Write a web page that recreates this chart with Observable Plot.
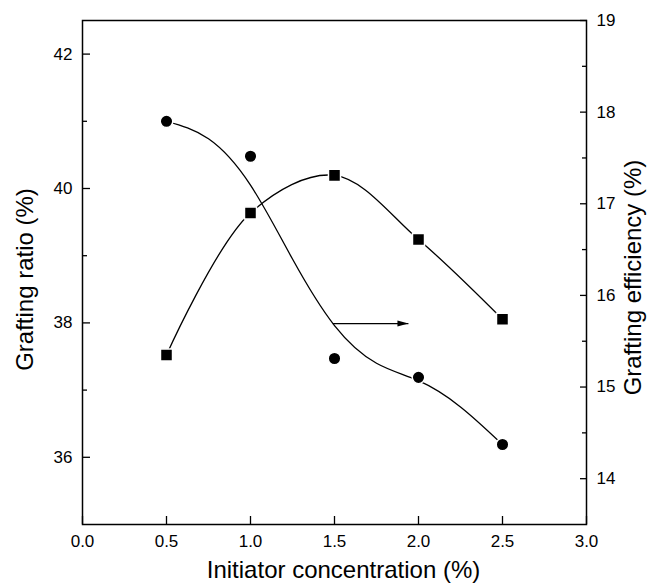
<!DOCTYPE html>
<html><head><meta charset="utf-8">
<script src="https://cdn.jsdelivr.net/npm/d3@7"></script>
<script src="https://cdn.jsdelivr.net/npm/@observablehq/plot@0.6"></script>
<style>body{margin:0;background:#fff}</style>
</head><body><div id="chart"></div>
<script>
// ---- data ----
const concentration = [0.5, 1.0, 1.5, 2.0, 2.5];
const graftingRatio = [41.0, 40.48, 37.47, 37.19, 36.19];        // left axis, circles
const graftingEfficiency = [15.35, 16.90, 17.31, 16.61, 15.74];  // right axis, squares
// fitted smooth curve drawn through the circle series
const fitConcentration = [0.5, 0.75, 1.0, 1.25, 1.5, 1.75, 2.0, 2.25, 2.5];
const ratioFit = [41.0, 40.74, 40.05, 38.95, 37.96, 37.40, 37.14, 36.75, 36.19];
// ticks
const xTicks = [0, 0.5, 1.0, 1.5, 2.0, 2.5, 3.0];
const leftMajor = [36, 38, 40, 42];
const leftMinor = [37, 39, 41];
const rightMajor = [14, 15, 16, 17, 18, 19];
const rightMinor = [14.5, 15.5, 16.5, 17.5, 18.5];
// arrow pointing to the right axis
const arrowX = [1.49, 1.94];
const arrowY = 37.99;

const leftDomain = [35, 42.5];
const rightDomain = [13.5, 19];
const toLeft = r => leftDomain[0] + (r - rightDomain[0]) * (leftDomain[1] - leftDomain[0]) / (rightDomain[1] - rightDomain[0]);
const fromLeft = v => rightDomain[0] + (v - leftDomain[0]) * (rightDomain[1] - rightDomain[0]) / (leftDomain[1] - leftDomain[0]);

const circles = concentration.map((x, i) => ({x, y: graftingRatio[i]}));
const squares = concentration.map((x, i) => ({x, y: toLeft(graftingEfficiency[i])}));
const fit = fitConcentration.map((x, i) => ({x, y: ratioFit[i]}));
const arrow = [{x1: arrowX[0], x2: arrowX[1], y: arrowY}];

const arrowHead = {
  draw(ctx) {
    ctx.moveTo(0, 0);
    ctx.lineTo(-11, -3);
    ctx.lineTo(-11, 3);
    ctx.closePath();
  }
};

const none = () => "";
const tickStyle = {stroke: "black", strokeWidth: 1.3, tickFormat: none, label: null};
const textStyle = {tickSize: 0, tickPadding: 10, fontSize: 17, label: null};

const chart = Plot.plot({
  width: 648,
  height: 586,
  marginLeft: 82,
  marginRight: 62,
  marginTop: 20,
  marginBottom: 62,
  style: {fontFamily: "'Liberation Sans', Arial, sans-serif", fontSize: "17px", color: "black", background: "white"},
  x: {domain: [0, 3], axis: null},
  y: {domain: leftDomain, axis: null},
  marks: [
    Plot.line(fit, {x: "x", y: "y", curve: "natural", stroke: "black", strokeWidth: 1.3}),
    Plot.line(squares, {x: "x", y: "y", curve: "catmull-rom", stroke: "black", strokeWidth: 1.3}),
    Plot.dot(circles, {x: "x", y: "y", r: 6.3, fill: "black", stroke: "white", strokeWidth: 1.5}),
    Plot.dot(squares, {x: "x", y: "y", r: 6.8, symbol: "square", fill: "black", stroke: "white", strokeWidth: 1.5}),
    Plot.link(arrow, {x1: "x1", x2: "x2", y1: "y", y2: "y", stroke: "black", strokeWidth: 1.2}),
    Plot.dot(arrow, {x: "x2", y: "y", symbol: arrowHead, fill: "black", stroke: "none"}),
    Plot.frame({stroke: "black", strokeWidth: 1.5}),
    // inward tick marks
    Plot.axisX(xTicks, {anchor: "bottom", tickSize: 8, dy: -8, ...tickStyle}),
    Plot.axisY(leftMajor, {anchor: "left", tickSize: 8, dx: 8, ...tickStyle}),
    Plot.axisY(leftMinor, {anchor: "left", tickSize: 5, dx: 5, ...tickStyle}),
    Plot.axisY(rightMajor.map(toLeft), {anchor: "right", tickSize: 7, dx: -7, ...tickStyle}),
    Plot.axisY(rightMinor.map(toLeft), {anchor: "right", tickSize: 5, dx: -5, ...tickStyle}),
    // tick labels
    Plot.axisX(xTicks, {anchor: "bottom", tickFormat: d3.format(".1f"), ...textStyle}),
    Plot.axisY(leftMajor, {anchor: "left", tickFormat: d => String(d), ...textStyle}),
    Plot.axisY(rightMajor.map(toLeft), {anchor: "right", tickFormat: d => String(Math.round(fromLeft(d))), ...textStyle}),
    // axis titles
    Plot.text(["Initiator concentration (%)"], {text: d => d, frameAnchor: "bottom", dx: 9, dy: 46, textAnchor: "middle", lineAnchor: "middle", fontSize: 24}),
    Plot.text(["Grafting ratio (%)"], {text: d => d, frameAnchor: "left", dx: -57, dy: 7, rotate: -90, textAnchor: "middle", lineAnchor: "middle", fontSize: 24}),
    Plot.text(["Grafting efficiency (%)"], {text: d => d, frameAnchor: "right", dx: 47, dy: 5, rotate: -90, textAnchor: "middle", lineAnchor: "middle", fontSize: 24})
  ]
});
document.getElementById("chart").appendChild(chart);
</script>
</body></html>
